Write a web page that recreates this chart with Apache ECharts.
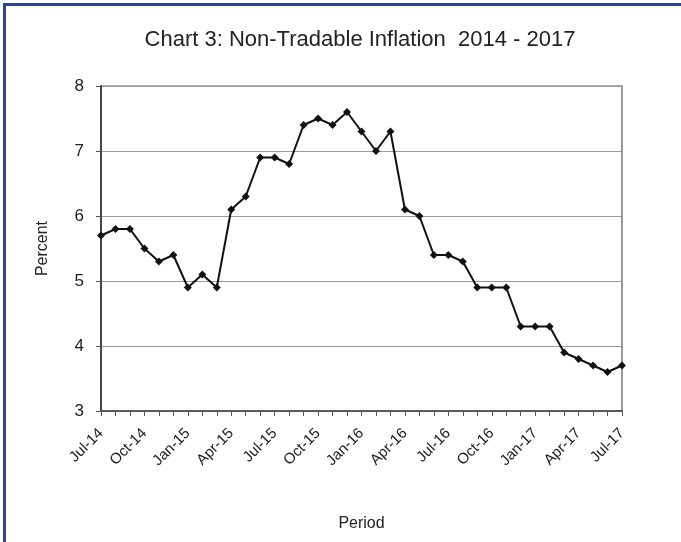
<!DOCTYPE html>
<html><head><meta charset="utf-8">
<script src="https://cdn.jsdelivr.net/npm/echarts@6/dist/echarts.min.js"></script>
<style>html,body{margin:0;padding:0;background:#fff}#c{width:681px;height:542px}</style>
</head><body><div id="c"></div>
<script>
const categories = ['Jul-14','Aug-14','Sep-14','Oct-14','Nov-14','Dec-14','Jan-15','Feb-15','Mar-15','Apr-15','May-15','Jun-15','Jul-15','Aug-15','Sep-15','Oct-15','Nov-15','Dec-15','Jan-16','Feb-16','Mar-16','Apr-16','May-16','Jun-16','Jul-16','Aug-16','Sep-16','Oct-16','Nov-16','Dec-16','Jan-17','Feb-17','Mar-17','Apr-17','May-17','Jun-17','Jul-17'];
const inflation = [5.7,5.8,5.8,5.5,5.3,5.4,4.9,5.1,4.9,6.1,6.3,6.9,6.9,6.8,7.4,7.5,7.4,7.6,7.3,7.0,7.3,6.1,6.0,5.4,5.4,5.3,4.9,4.9,4.9,4.3,4.3,4.3,3.9,3.8,3.7,3.6,3.7];
const titleText = 'Chart 3: Non-Tradable Inflation  2014 - 2017';
const font = 'Liberation Sans, Arial, sans-serif';
const chart = echarts.init(document.getElementById('c'), null, {renderer:'canvas'});
chart.setOption({
  animation:false,
  backgroundColor:'#fff',
  title:{text:titleText,left:355,textAlign:'center',top:24,textStyle:{fontFamily:font,fontSize:22,fontWeight:'normal',color:'#222'}},
  grid:{left:101,right:59,top:86,bottom:131,show:true,borderColor:'#555',borderWidth:1.2,backgroundColor:'transparent'},
  xAxis:{type:'category',data:categories,boundaryGap:false,
    name:'Period',nameLocation:'middle',nameGap:105,nameTextStyle:{fontFamily:font,fontSize:16,color:'#222'},
    axisLine:{lineStyle:{color:'#444',width:1.5}},
    axisTick:{show:true,interval:0,length:5,lineStyle:{color:'#555'}},
    axisLabel:{interval:2,rotate:45,fontFamily:font,fontSize:15,color:'#222',margin:20},
    splitLine:{show:false}},
  yAxis:{type:'value',min:3,max:8,interval:1,
    name:'Percent',nameLocation:'middle',nameGap:50,nameTextStyle:{fontFamily:font,fontSize:16,color:'#222'},
    axisLine:{show:true,lineStyle:{color:'#444',width:2}},
    axisTick:{show:true,length:5,lineStyle:{color:'#555'}},
    axisLabel:{fontFamily:font,fontSize:17,color:'#222',margin:17},
    splitLine:{show:true,lineStyle:{color:'#999',width:1.2}}},
  series:[{type:'line',data:inflation,symbol:'diamond',symbolSize:8,
    lineStyle:{color:'#111',width:2},itemStyle:{color:'#111'}}],
  graphic:[
    {type:'rect',shape:{x:3,y:3,width:678,height:3},style:{fill:'#2b4590'}},
    {type:'rect',shape:{x:3,y:3,width:3,height:539},style:{fill:'#2b4590'}}
  ]
});
</script></body></html>
